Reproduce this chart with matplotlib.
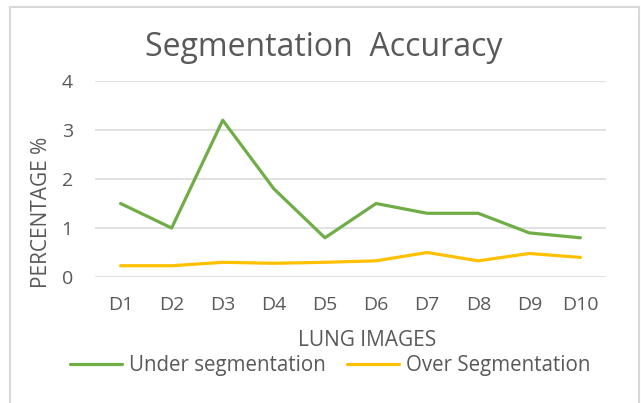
import matplotlib
matplotlib.use("Agg")
import matplotlib.pyplot as plt
from matplotlib.patches import Rectangle

categories = ["D1", "D2", "D3", "D4", "D5", "D6", "D7", "D8", "D9", "D10"]
under_seg = [1.5, 1.0, 3.2, 1.8, 0.8, 1.5, 1.3, 1.3, 0.9, 0.8]
over_seg = [0.23, 0.23, 0.3, 0.28, 0.3, 0.33, 0.5, 0.33, 0.48, 0.4]
yticks = [0, 1, 2, 3, 4]

W, H = 641, 403
plt.rcParams['font.family'] = ['Open Sans', 'DejaVu Sans']
txt = '#595959'

fig = plt.figure(figsize=(W/100, H/100), dpi=100)
fig.patch.set_facecolor('white')

# chart border
fig.patches.append(Rectangle((10/W, -0.05), 629/W, (1-7/H)+0.05, transform=fig.transFigure,
                             fill=False, edgecolor='#d9d9d9', linewidth=1.5))

ax = fig.add_axes([95/W, 1-277/H, 511/W, 196/H])
x = list(range(len(categories)))
ax.plot(x, under_seg, color='#70ad47', linewidth=2.3, label='Under segmentation', solid_capstyle='round')
ax.plot(x, over_seg, color='#ffc000', linewidth=2.3, label='Over Segmentation', solid_capstyle='round')
ax.set_xlim(-0.5, len(categories)-0.5)
ax.set_ylim(0, 4)
ax.set_yticks(yticks)
ax.set_xticks(x)
ax.set_xticklabels(categories)
ax.grid(axis='y', color='#d9d9d9', linewidth=1.1)
ax.set_axisbelow(True)
for s in ax.spines.values():
    s.set_visible(False)
ax.tick_params(axis='both', length=0, labelcolor=txt, labelsize=14)
ax.tick_params(axis='y', pad=16)
ax.tick_params(axis='x', pad=14)

fig.text(324/W, 1-48/H, 'Segmentation  Accuracy', ha='center', va='center', fontsize=23, color=txt)
fig.text(367/W, 1-340/H, 'LUNG IMAGES', ha='center', va='center', fontsize=15, color=txt)
fig.text(42/W, 1-212/H, 'PERCENTAGE %', ha='center', va='center', rotation=90, fontsize=15, color=txt)

fig.legend(loc='center', bbox_to_anchor=(330/W, 1-366/H), ncol=2, frameon=False,
           fontsize=14.8, handlelength=2.55, handletextpad=0.3, columnspacing=1.05,
           labelcolor=txt)

fig.savefig('out.png', dpi=100)
